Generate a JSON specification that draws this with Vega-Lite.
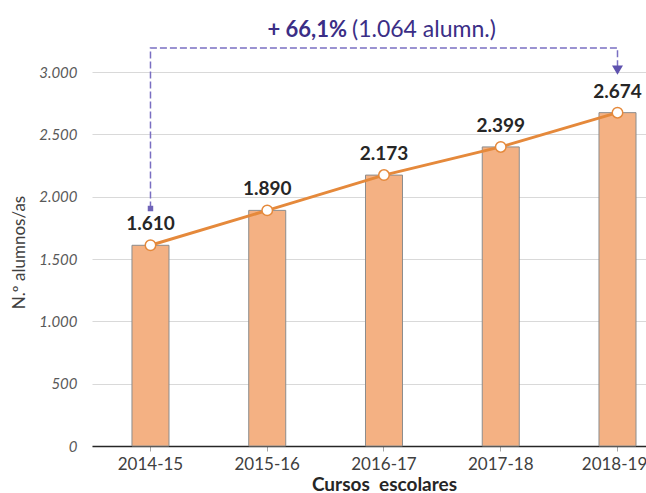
{
  "$schema": "https://vega.github.io/schema/vega-lite/v6.json",
  "width": 554,
  "height": 374,
  "autosize": "none",
  "padding": {"left": 92, "top": 72, "right": 0, "bottom": 47},
  "background": "white",
  "config": {
    "view": {"stroke": null},
    "font": "Lato",
    "locale": {"number": {"decimal": ",", "thousands": ".", "grouping": [3], "currency": ["", " €"]}}
  },
  "datasets": {
    "main": [
      {"curso": "2014-15", "alumnos": 1610},
      {"curso": "2015-16", "alumnos": 1890},
      {"curso": "2016-17", "alumnos": 2173},
      {"curso": "2017-18", "alumnos": 2399},
      {"curso": "2018-19", "alumnos": 2674}
    ],
    "arrow": [
      {"curso": "2014-15", "v": 1905, "o": 1},
      {"curso": "2014-15", "v": 3193, "o": 2},
      {"curso": "2018-19", "v": 3193, "o": 3},
      {"curso": "2018-19", "v": 3020, "o": 4}
    ],
    "arrowStart": [{"curso": "2014-15", "v": 1905}],
    "arrowHead": [{"curso": "2018-19", "v": 3015}],
    "note": [{"curso": "2016-17", "v": 3340, "bold": "+ 66,1%", "rest": "(1.064 alumn.)"}]
  },
  "encoding": {
    "x": {
      "field": "curso", "type": "nominal",
      "scale": {"domain": ["2014-15", "2015-16", "2016-17", "2017-18", "2018-19"], "paddingInner": 0.683, "paddingOuter": 0.214, "align": 0.8},
      "axis": {
        "title": "Cursos\u00a0 escolares", "titleFontSize": 19, "titleFontWeight": "bold", "titleColor": "#262626",
        "titleX": 292, "titleAlign": "center", "titlePadding": 3,
        "labelAngle": 0, "labelFontSize": 17, "labelColor": "#404040", "labelPadding": 5,
        "labelOffset": {"condition": {"test": "datum.value == '2018-19'", "value": -3}, "value": 0},
        "tickColor": "#A6A6A6", "tickSize": 5, "domainColor": "#262626", "domainWidth": 1.5
      }
    }
  },
  "layer": [
    {
      "data": {"name": "main"},
      "mark": {"type": "bar", "color": "#F4B183", "stroke": "#8C8C8C", "strokeWidth": 1},
      "encoding": {
        "y": {
          "field": "alumnos", "type": "quantitative",
          "scale": {"domain": [0, 3000], "nice": false},
          "axis": {
            "values": [0, 500, 1000, 1500, 2000, 2500, 3000], "format": ",d",
            "title": "N.º alumnos/as", "titleFontSize": 17, "titleFontWeight": "normal", "titleColor": "#404040",
            "titleX": -73, "titleY": 180, "titleAngle": -90, "titleAlign": "center", "titleBaseline": "middle",
            "labelFontSize": 15, "labelFontStyle": "italic", "labelColor": "#595959", "labelPadding": 15,
            "domain": false, "ticks": false, "grid": true, "gridColor": "#D9D9D9", "gridWidth": 1
          }
        }
      }
    },
    {
      "data": {"name": "main"},
      "mark": {"type": "text", "fontSize": 19, "fontWeight": "bold", "color": "#262626", "baseline": "alphabetic", "dy": -15},
      "encoding": {
        "y": {"field": "alumnos", "type": "quantitative"},
        "text": {"field": "alumnos", "type": "quantitative", "format": ",d"}
      }
    },
    {
      "data": {"name": "main"},
      "mark": {"type": "line", "color": "#E5893B", "strokeWidth": 3},
      "encoding": {"y": {"field": "alumnos", "type": "quantitative"}}
    },
    {
      "data": {"name": "main"},
      "mark": {"type": "point", "shape": "circle", "filled": true, "fill": "white", "stroke": "#E5893B", "strokeWidth": 1.5, "size": 110, "opacity": 1},
      "encoding": {"y": {"field": "alumnos", "type": "quantitative"}}
    },
    {
      "data": {"name": "arrow"},
      "mark": {"type": "line", "color": "#7A6FC2", "strokeWidth": 1.5, "strokeDash": [7, 3]},
      "encoding": {
        "y": {"field": "v", "type": "quantitative"},
        "order": {"field": "o", "type": "quantitative"}
      }
    },
    {
      "data": {"name": "arrowStart"},
      "mark": {"type": "point", "shape": "square", "filled": true, "color": "#6F63B8", "size": 30, "opacity": 1},
      "encoding": {"y": {"field": "v", "type": "quantitative"}}
    },
    {
      "data": {"name": "arrowHead"},
      "mark": {"type": "point", "shape": "triangle-down", "filled": true, "color": "#5E52AE", "size": 120, "opacity": 1},
      "encoding": {"y": {"field": "v", "type": "quantitative"}}
    },
    {
      "data": {"name": "note"},
      "mark": {"type": "text", "fontSize": 22, "fontWeight": "bold", "color": "#3B2E86", "align": "right", "baseline": "middle", "dx": -37},
      "encoding": {"y": {"field": "v", "type": "quantitative"}, "text": {"field": "bold"}}
    },
    {
      "data": {"name": "note"},
      "mark": {"type": "text", "fontSize": 23, "fontWeight": "normal", "color": "#3B2E86", "align": "left", "baseline": "middle", "dx": -32},
      "encoding": {"y": {"field": "v", "type": "quantitative"}, "text": {"field": "rest"}}
    }
  ]
}
